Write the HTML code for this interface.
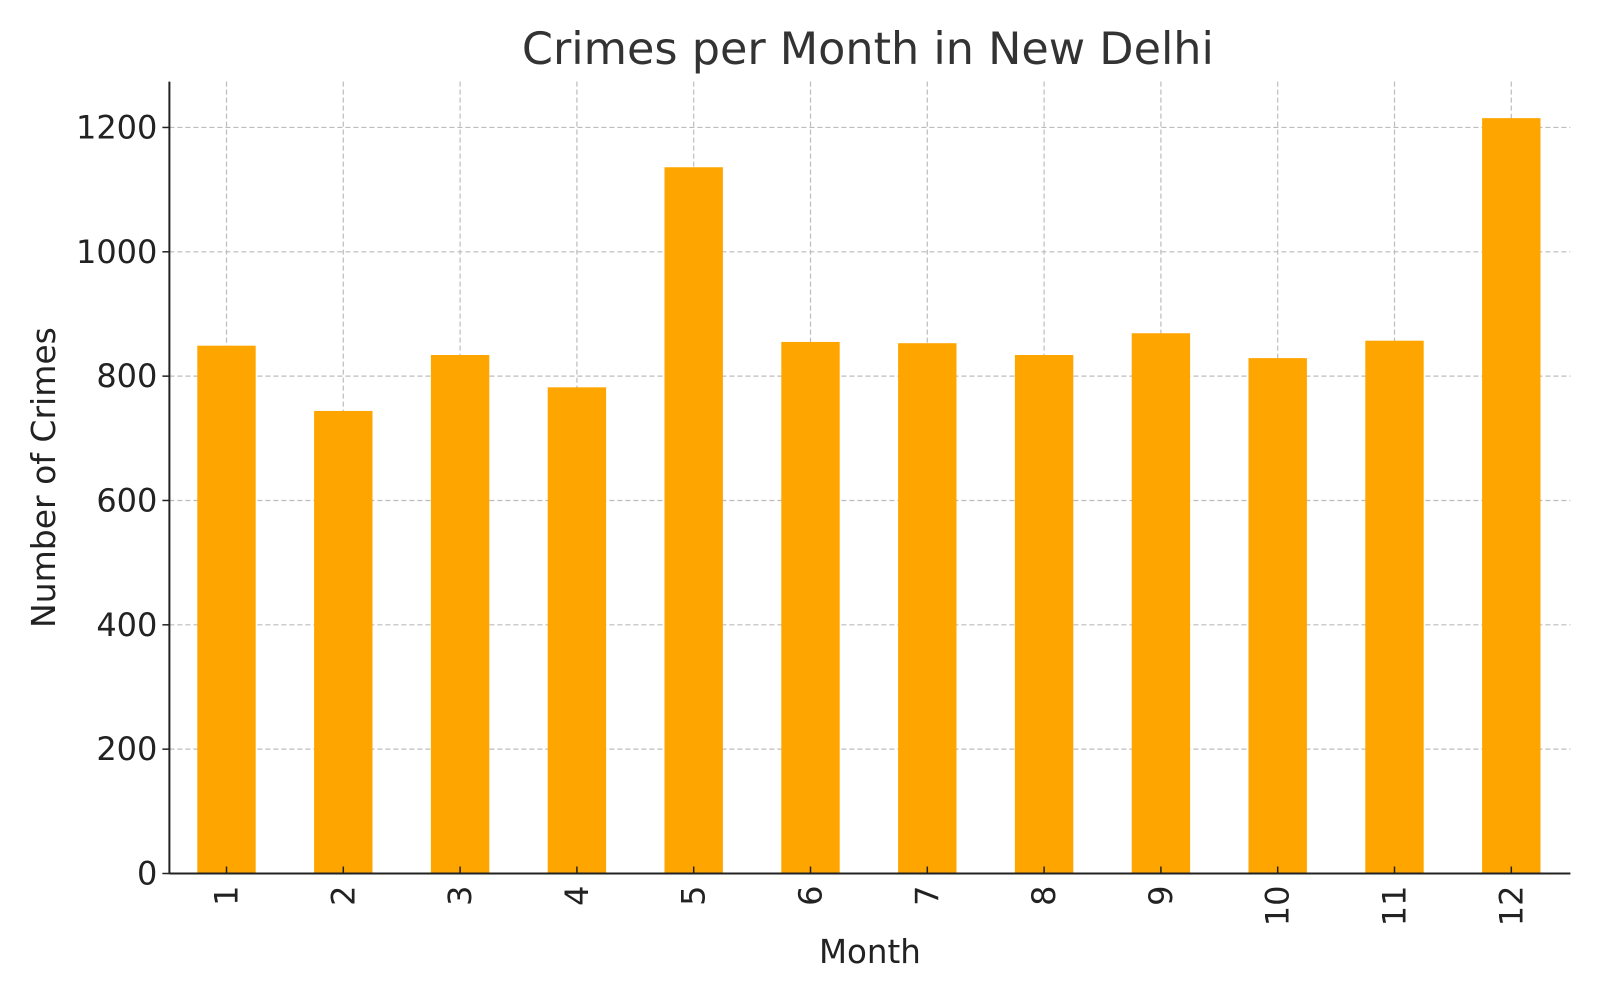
<!DOCTYPE html>
<html><head><meta charset="utf-8"><style>
body{margin:0;background:#fff;}
svg text{font-family:"DejaVu Sans","Liberation Sans",sans-serif;}
</style></head><body>
<svg id="c" width="1600" height="1000"></svg>
<script>
const categories=["1","2","3","4","5","6","7","8","9","10","11","12"];
const values=[849,744,834,782,1136,855,853,834,869,829,857,1215];
const yTicks=[0,200,400,600,800,1000,1200];
const NS="http://www.w3.org/2000/svg";
const svg=document.getElementById('c');
const L=169.4,R=1570.4,B=873.5,T=81.6;
const yS=v=>B-v*0.6217;
const x0=226.5,step=116.8,bw=58.4;
const xS=i=>x0+i*step;
function mk(t,a,p){const e=document.createElementNS(NS,t);for(const k in a)e.setAttribute(k,a[k]);(p||svg).appendChild(e);return e;}
yTicks.forEach(v=>{
 const g=mk('line',{x1:L,x2:R,y1:yS(v),y2:yS(v),stroke:'#bbb','stroke-width':1.2,'stroke-dasharray':'5,3'});
 
 
});
categories.forEach((c,i)=>{
 const g=mk('line',{x1:xS(i),x2:xS(i),y1:T,y2:B,stroke:'#bbb','stroke-width':1.2,'stroke-dasharray':'5,3'});
 
 
});
values.forEach((v,i)=>{
 const r=mk('rect',{x:xS(i)-bw/2,y:yS(v),width:bw,height:B-yS(v),fill:'#ffa500'});
 
 
});
const ax=mk('line',{x1:L,x2:L,y1:T,y2:B,stroke:'#222','stroke-width':2});


const bx=mk('line',{x1:L,x2:R,y1:B,y2:B,stroke:'#222','stroke-width':2});


yTicks.forEach(v=>{
 mk('line',{x1:L-7,x2:L,y1:yS(v),y2:yS(v),stroke:'#222','stroke-width':1.5});
 const t=mk('text',{x:L-12,y:yS(v)+11,'text-anchor':'end','font-size':32,fill:'#222'});
 t.textContent=v;
 
 
});
categories.forEach((c,i)=>{
 mk('line',{x1:xS(i),x2:xS(i),y1:B-7,y2:B,stroke:'#222','stroke-width':1.5});
 const t=mk('text',{x:0,y:0,'text-anchor':'end','font-size':32,fill:'#222',transform:`translate(${xS(i)+11},${B+12}) rotate(-90)`});
 t.textContent=c;
 
 
});
const ti=mk('text',{x:(L+R)/2-2,y:64,'text-anchor':'middle','font-size':44.5,fill:'#333'});
ti.textContent='Crimes per Month in New Delhi';


const xl=mk('text',{x:(L+R)/2,y:963,'text-anchor':'middle','font-size':32.5,fill:'#222'});
xl.textContent='Month';


const yl=mk('text',{x:0,y:0,'text-anchor':'middle','font-size':33,fill:'#222',transform:`translate(55,${(T+B)/2}) rotate(-90)`});
yl.textContent='Number of Crimes';


</script>
</body></html>
